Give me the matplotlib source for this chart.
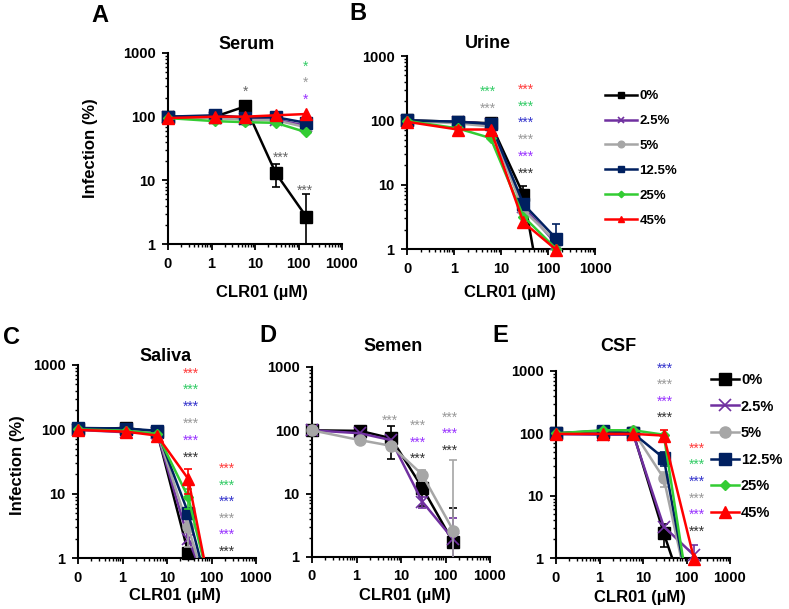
import numpy as np
import matplotlib
matplotlib.use('Agg')
import matplotlib.pyplot as plt
from matplotlib.lines import Line2D
from matplotlib.ticker import FixedLocator, FixedFormatter, LogLocator, NullFormatter

plt.rcParams['font.family'] = ['Liberation Sans', 'DejaVu Sans']
plt.rcParams['font.weight'] = 'bold'
plt.rcParams['axes.labelweight'] = 'bold'

# CLR01 concentrations (uM); 0 is drawn on the 0.1 decade of the log axis
conc = [0, 1.2, 6, 30, 150]
labels = ['0%', '2.5%', '5%', '12.5%', '25%', '45%']
colors = ['black', '#7030A0', '#A6A6A6', '#002060', '#33CC33', '#FF0000']
markers = ['s', 'x', 'o', 's', 'D', '^']
msizes = [8, 8, 8, 8, 5.5, 8]
star_colors = {'k': '#333333', 'd': '#666666', 'p': '#9933FF', 'g': '#999999',
               'n': '#3333CC', 'e': '#33CC66', 'r': '#FF3B3B'}
nan = np.nan

# infection (%) per fluid concentration
serum = {'0%': [100, 100, 145, 13, 2.7], '2.5%': [98, 97, 92, 90, 72],
         '5%': [97, 95, 90, 88, 68], '12.5%': [100, 105, 97, 98, 80],
         '25%': [95, 85, 82, 80, 57], '45%': [95, 100, 100, 105, 110]}
serum_sd = {'0%': [nan, nan, 10, 5, 3.3]}
urine = {'0%': [100, 95, 90, 7, 0.01], '2.5%': [98, 95, 88, 4.5, 1.2],
         '5%': [98, 90, 80, 4, 1.3], '12.5%': [100, 95, 88, 5, 1.45],
         '25%': [98, 75, 53, 3.2, 1.0], '45%': [95, 72, 72, 2.6, 0.97]}
urine_sd = {'0%': [nan, nan, nan, 2.5, nan], '12.5%': [nan, nan, nan, nan, 1.0],
            '45%': [nan, 8, nan, nan, nan]}
saliva = {'0%': [100, 105, 90, 1.2, 0.08], '2.5%': [98, 90, 88, 2.0, 0.12],
          '5%': [100, 100, 92, 3.0, 0.07], '12.5%': [105, 103, 95, 5.0, 0.07],
          '25%': [100, 95, 85, 8.8, 0.09], '45%': [98, 92, 80, 17, 0.06]}
saliva_sd = {'0%': [nan, nan, nan, 0.5, nan], '5%': [nan, nan, nan, 1.5, nan],
             '25%': [nan, nan, nan, 3, nan], '45%': [nan, nan, nan, 7, nan]}
semen = {'0%': [100, 98, 75, 12.5, 1.7], '2.5%': [100, 90, 70, 7.5, 1.9],
         '5%': [100, 70, 57, 20, 2.6]}
semen_sd = {'0%': [nan, nan, 40, 6, 4.3], '2.5%': [nan, nan, nan, 1.5, 2.3],
            '5%': [nan, nan, nan, 4, 32]}
csf = {'0%': [100, 105, 100, 2.5, 0.09], '2.5%': [97, 95, 95, 3.2, 1.1],
       '5%': [100, 108, 108, 19, 0.11], '12.5%': [100, 110, 100, 40, 0.09],
       '25%': [100, 112, 112, 95, 0.07], '45%': [98, 98, 98, 92, 0.95]}
csf_sd = {'0%': [nan, nan, nan, 1.0, nan], '2.5%': [nan, nan, nan, nan, 0.5],
          '5%': [nan, nan, nan, 5, nan], '12.5%': [nan, nan, nan, 10, nan],
          '45%': [nan, nan, nan, 20, nan]}

# significance marks (x, y, colour key, text)
serum_stars = [(5.9, 245, 'd', '*'), (40, 23, 'd', '***'), (142, 6.8, 'd', '***'),
               (142, 600, 'e', '*'), (142, 337, 'g', '*'), (142, 182, 'p', '*')]
urine_stars = [(5.3, 275, 'e', '***'), (5.3, 150, 'g', '***')] + \
    [(34, yy, c, '***') for yy, c in zip([297, 161, 91, 49.5, 27, 14.7], 'rengpk')]
saliva_stars = [(35, yy, c, '***') for yy, c in zip([724, 409, 223, 121, 66, 36], 'rengpk')] + \
    [(222, yy, c, '***') for yy, c in zip([24, 13.2, 7.4, 4.05, 2.28, 1.24], 'rengpk')]
semen_stars = [(5.7, 141, 'g', '***'), (24, 117, 'g', '***'), (24, 63, 'p', '***'),
               (24, 35, 'k', '***'), (123, 158, 'g', '***'), (123, 88, 'p', '***'),
               (123, 47, 'k', '***')]
csf_stars = [(32, yy, c, '***') for yy, c in zip([1080, 600, 318, 177], 'ngpk')] + \
    [(175, yy, c, '***') for yy, c in zip([56, 31, 16.6, 8.9, 4.9, 2.6], 'rengpk')]

W, H = 789, 609
fig = plt.figure(figsize=(W / 100, H / 100), dpi=100)


def px_axes(l, r, t, b):
    return fig.add_axes([l / W, 1 - b / H, (r - l) / W, (b - t) / H])


def panel(rect, data, sds, stars, title, tpos, letter, lpos, ylabel=None, xlab=(0.54, -0.2)):
    ax = px_axes(*rect)
    xp = np.array([0.1 if c == 0 else c for c in conc], dtype=float)
    for i, lab in enumerate(labels):
        if lab not in data:
            continue
        y = np.array(data[lab], dtype=float)
        if lab in sds:
            ax.errorbar(xp, y, yerr=np.array(sds[lab]), fmt='none', ecolor=colors[i],
                        elinewidth=1.2, capsize=3, capthick=1.2, zorder=2 + i)
        ax.plot(xp, y, color=colors[i], lw=1.8, zorder=2 + i)
        m = y >= 0.85
        ax.plot(xp[m], y[m], ls='none', marker=markers[i], ms=msizes[i], color=colors[i],
                mew=1.2 if markers[i] == 'x' else 1, clip_on=False, zorder=3 + i)
    for sx, sy, c, s in stars:
        ax.text(sx, sy, s, color=star_colors[c], fontsize=10, fontweight='normal',
                ha='center', va='center')
    ax.set_xscale('log')
    ax.set_yscale('log')
    ax.set_xlim(0.1, 1000)
    ax.set_ylim(1, 1000)
    ax.xaxis.set_major_locator(FixedLocator([0.1, 1, 10, 100, 1000]))
    ax.xaxis.set_major_formatter(FixedFormatter(['0', '1', '10', '100', '1000']))
    ax.yaxis.set_major_locator(FixedLocator([1, 10, 100, 1000]))
    ax.yaxis.set_major_formatter(FixedFormatter(['1', '10', '100', '1000']))
    for a in (ax.xaxis, ax.yaxis):
        a.set_minor_locator(LogLocator(subs=np.arange(2, 10)))
        a.set_minor_formatter(NullFormatter())
    ax.tick_params(which='major', direction='out', length=4, width=1.3, labelsize=10.5, pad=5)
    ax.tick_params(which='minor', direction='out', length=2.5, width=1)
    for s in ('top', 'right'):
        ax.spines[s].set_visible(False)
    for s in ('left', 'bottom'):
        ax.spines[s].set_linewidth(1.5)
    ax.set_xlabel('CLR01 (µM)', fontsize=12)
    ax.xaxis.set_label_coords(*xlab)
    if ylabel:
        ax.set_ylabel('Infection (%)', fontsize=12)
        ax.yaxis.set_label_coords(*ylabel)
    ax.text(tpos[0], tpos[1], title, transform=ax.transAxes, fontsize=13,
            ha='center', va='bottom')
    fig.text(lpos[0] / W, 1 - lpos[1] / H, letter, fontsize=17, ha='center', va='center')
    return ax


panel((168, 342, 53, 244), serum, serum_sd, serum_stars, 'Serum', (0.45, 1.0),
      'A', (100, 15), ylabel=(-0.40, 0.5), xlab=(0.54, -0.215))
panel((407, 595, 56, 249), urine, urine_sd, urine_stars, 'Urine', (0.43, 1.02),
      'B', (358, 13), xlab=(0.55, -0.187))
panel((78, 256, 365, 558), saliva, saliva_sd, saliva_stars, 'Saliva', (0.49, 1.0),
      'C', (12, 337), ylabel=(-0.30, 0.48), xlab=(0.545, -0.155))
panel((312, 490, 367, 557), semen, semen_sd, semen_stars, 'Semen', (0.455, 1.063),
      'D', (268, 336), xlab=(0.52, -0.163))
panel((556, 730, 371, 558), csf, csf_sd, csf_stars, 'CSF', (0.36, 1.085),
      'E', (500, 336), xlab=(0.48, -0.17))


def handles(scale):
    return [Line2D([], [], color=c, lw=1.8, marker=m, ms=s * scale,
                   mew=1.2 if m == 'x' else 1)
            for c, m, s in zip(colors, markers, msizes)]


fig.legend(handles(0.6), labels, loc='upper left', bbox_to_anchor=(605 / W, 1 - 90 / H),
           frameon=False, fontsize=9.5, handlelength=2.4, handletextpad=0.2,
           labelspacing=0.96, borderpad=0, borderaxespad=0)
fig.legend(handles(1.0), labels, loc='upper left', bbox_to_anchor=(711 / W, 1 - 373 / H),
           frameon=False, fontsize=10.5, handlelength=1.9, handletextpad=0.15,
           labelspacing=0.86, borderpad=0, borderaxespad=0)

fig.savefig('out.png', dpi=100)
